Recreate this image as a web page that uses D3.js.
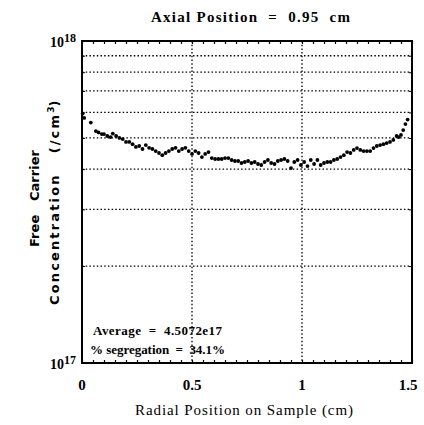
<!DOCTYPE html>
<html><head><meta charset="utf-8">
<script src="https://cdn.jsdelivr.net/npm/d3@7"></script>
<style>body{margin:0;background:#fff}svg{display:block}</style>
</head><body>
<script>
const radialPos = [0.003,0.01,0.04,0.063,0.075,0.09,0.10,0.115,0.13,0.14,0.155,0.17,0.185,0.20,0.215,0.23,0.245,0.26,0.275,0.29,0.305,0.32,0.335,0.35,0.365,0.38,0.395,0.41,0.425,0.44,0.455,0.47,0.485,0.50,0.515,0.53,0.545,0.56,0.575,0.59,0.605,0.62,0.635,0.65,0.665,0.68,0.695,0.71,0.725,0.74,0.755,0.77,0.785,0.80,0.815,0.83,0.845,0.86,0.875,0.89,0.905,0.92,0.935,0.95,0.965,0.98,0.995,1.01,1.025,1.04,1.055,1.07,1.085,1.10,1.115,1.13,1.145,1.16,1.175,1.19,1.205,1.22,1.235,1.25,1.265,1.28,1.295,1.31,1.325,1.34,1.355,1.37,1.385,1.40,1.415,1.43,1.44,1.45,1.46,1.47,1.48];
const concentration = [5.95,5.77,5.58,5.25,5.20,5.14,5.14,5.07,5.03,5.16,5.07,5.00,4.96,4.86,4.86,4.78,4.69,4.72,4.62,4.75,4.66,4.62,4.55,4.49,4.42,4.49,4.55,4.62,4.66,4.55,4.62,4.66,4.55,4.46,4.55,4.49,4.36,4.46,4.52,4.33,4.30,4.30,4.30,4.33,4.33,4.27,4.24,4.24,4.18,4.21,4.24,4.18,4.21,4.15,4.12,4.21,4.27,4.18,4.15,4.24,4.27,4.30,4.24,4.03,4.21,4.27,4.12,4.21,4.09,4.27,4.15,4.27,4.12,4.18,4.21,4.21,4.27,4.30,4.36,4.42,4.52,4.49,4.59,4.65,4.59,4.55,4.55,4.55,4.65,4.72,4.75,4.78,4.82,4.86,4.93,5.07,5.03,5.11,5.29,5.52,5.70].map(v => v * 1e17);
const xTickValues = [0, 0.5, 1, 1.5];
const xTickLabels = ["0", "0.5", "1", "1.5"];
const yGridValues = [2e17,3e17,4e17,5e17,6e17,7e17,8e17,9e17];
const titleText = "Axial Position  =  0.95  cm";
const xLabelText = "Radial Position on Sample (cm)";
const annotations = ["Average  =  4.5072e17", "% segregation  =  34.1%"];

const W = 424, H = 425;
const L = 82, R = 412, T = 41, B = 363;
const svg = d3.select("body").append("svg").attr("width", W).attr("height", H);
const x = d3.scaleLinear().domain([0, 1.5]).range([L, R]);
const y = d3.scaleLog().domain([1e17, 1e18]).range([B, T]);

// gridlines
svg.append("g").selectAll("line").data(yGridValues).join("line")
  .attr("x1", L).attr("x2", R).attr("y1", d => y(d)).attr("y2", d => y(d))
  .attr("stroke", "#000").attr("stroke-width", 1.3).attr("stroke-dasharray", "1.5,2.2");
svg.append("g").selectAll("line").data([0.5, 1]).join("line")
  .attr("x1", d => x(d)).attr("x2", d => x(d)).attr("y1", T).attr("y2", B)
  .attr("stroke", "#000").attr("stroke-width", 1.3).attr("stroke-dasharray", "1.5,2.2");

// minor ticks along top and bottom (inward)
const minorX = d3.range(0, 31).map(i => i * 0.05);
svg.append("g").call(d3.axisBottom(x).tickValues(minorX).tickSize(-3).tickFormat(""))
  .attr("transform", `translate(0,${B})`).call(g => g.select(".domain").remove())
  .selectAll("line").attr("stroke-width", 1.2);
svg.append("g").call(d3.axisTop(x).tickValues(minorX).tickSize(-3).tickFormat(""))
  .attr("transform", `translate(0,${T})`).call(g => g.select(".domain").remove())
  .selectAll("line").attr("stroke-width", 1.2);
svg.append("g").call(d3.axisLeft(y).tickValues(yGridValues).tickSize(-3).tickFormat(""))
  .attr("transform", `translate(${L},0)`).call(g => g.select(".domain").remove());
svg.append("g").call(d3.axisRight(y).tickValues(yGridValues).tickSize(-3).tickFormat(""))
  .attr("transform", `translate(${R},0)`).call(g => g.select(".domain").remove());

// frame
svg.append("rect").attr("x", L).attr("y", T).attr("width", R - L).attr("height", B - T)
  .attr("fill", "none").attr("stroke", "#000").attr("stroke-width", 2);

// x tick labels
const serif = "'Liberation Serif', 'DejaVu Serif', serif";
svg.append("g").selectAll("text").data(xTickValues).join("text")
  .attr("x", (d, i) => x(d) - (i === 3 ? 4 : 0)).attr("y", B + 27).attr("text-anchor", "middle")
  .attr("font-family", serif).attr("font-weight", "bold").attr("font-size", 15)
  .text((d, i) => xTickLabels[i]);

// y labels 10^18 / 10^17
[[1e18, "18"], [1e17, "17"]].forEach(([v, e]) => {
  const t = svg.append("text").attr("x", L - 6).attr("y", y(v) + 6).attr("text-anchor", "end")
    .attr("font-family", serif).attr("font-weight", "bold").attr("font-size", 14);
  t.append("tspan").text("10");
  t.append("tspan").attr("dy", -5).attr("font-size", 12).text(e);
});

// title
svg.append("text").attr("x", 151).attr("y", 22)
  .attr("font-family", serif).attr("font-weight", "bold").attr("font-size", 15)
  .attr("textLength", 199).attr("lengthAdjust", "spacing")
  .style("white-space", "pre").text(titleText);

// x label
svg.append("text").attr("x", 135).attr("y", 415)
  .attr("font-family", serif).attr("font-size", 15)
  .attr("textLength", 218).attr("lengthAdjust", "spacing").text(xLabelText);

// y label
const sans = "'DejaVu Sans', sans-serif";
const yl = svg.append("g").attr("transform", "rotate(-90)");
yl.append("text").attr("x", -247).attr("y", 39)
  .attr("font-family", sans).attr("font-weight", "bold").attr("font-size", 13)
  .attr("textLength", 97).attr("lengthAdjust", "spacing")
  .style("white-space", "pre").text("Free   Carrier");
const yl2 = yl.append("text").attr("x", -305).attr("y", 59)
  .attr("font-family", sans).attr("font-weight", "bold").attr("font-size", 13)
  .style("white-space", "pre");
yl2.append("tspan").attr("textLength", 190).attr("lengthAdjust", "spacing").text("Concentration   (/cm");
yl2.append("tspan").attr("dy", -5).attr("font-size", 9).text("3");
yl2.append("tspan").attr("dy", 5).text(")");

// annotations
svg.append("g").selectAll("text").data(annotations).join("text")
  .attr("x", (d, i) => i === 0 ? 93 : 90).attr("y", (d, i) => 335 + i * 19)
  .attr("font-family", serif).attr("font-weight", "bold").attr("font-size", 13)
  .attr("textLength", (d, i) => i === 0 ? 129 : 135).style("white-space", "pre")
  .text(d => d);

// data points
const data = radialPos.map((d, i) => ({x: d, v: concentration[i]}));
svg.append("g").selectAll("circle").data(data).join("circle")
  .attr("cx", d => x(d.x)).attr("cy", d => y(d.v)).attr("r", 1.9).attr("fill", "#000");
</script>
</body></html>
